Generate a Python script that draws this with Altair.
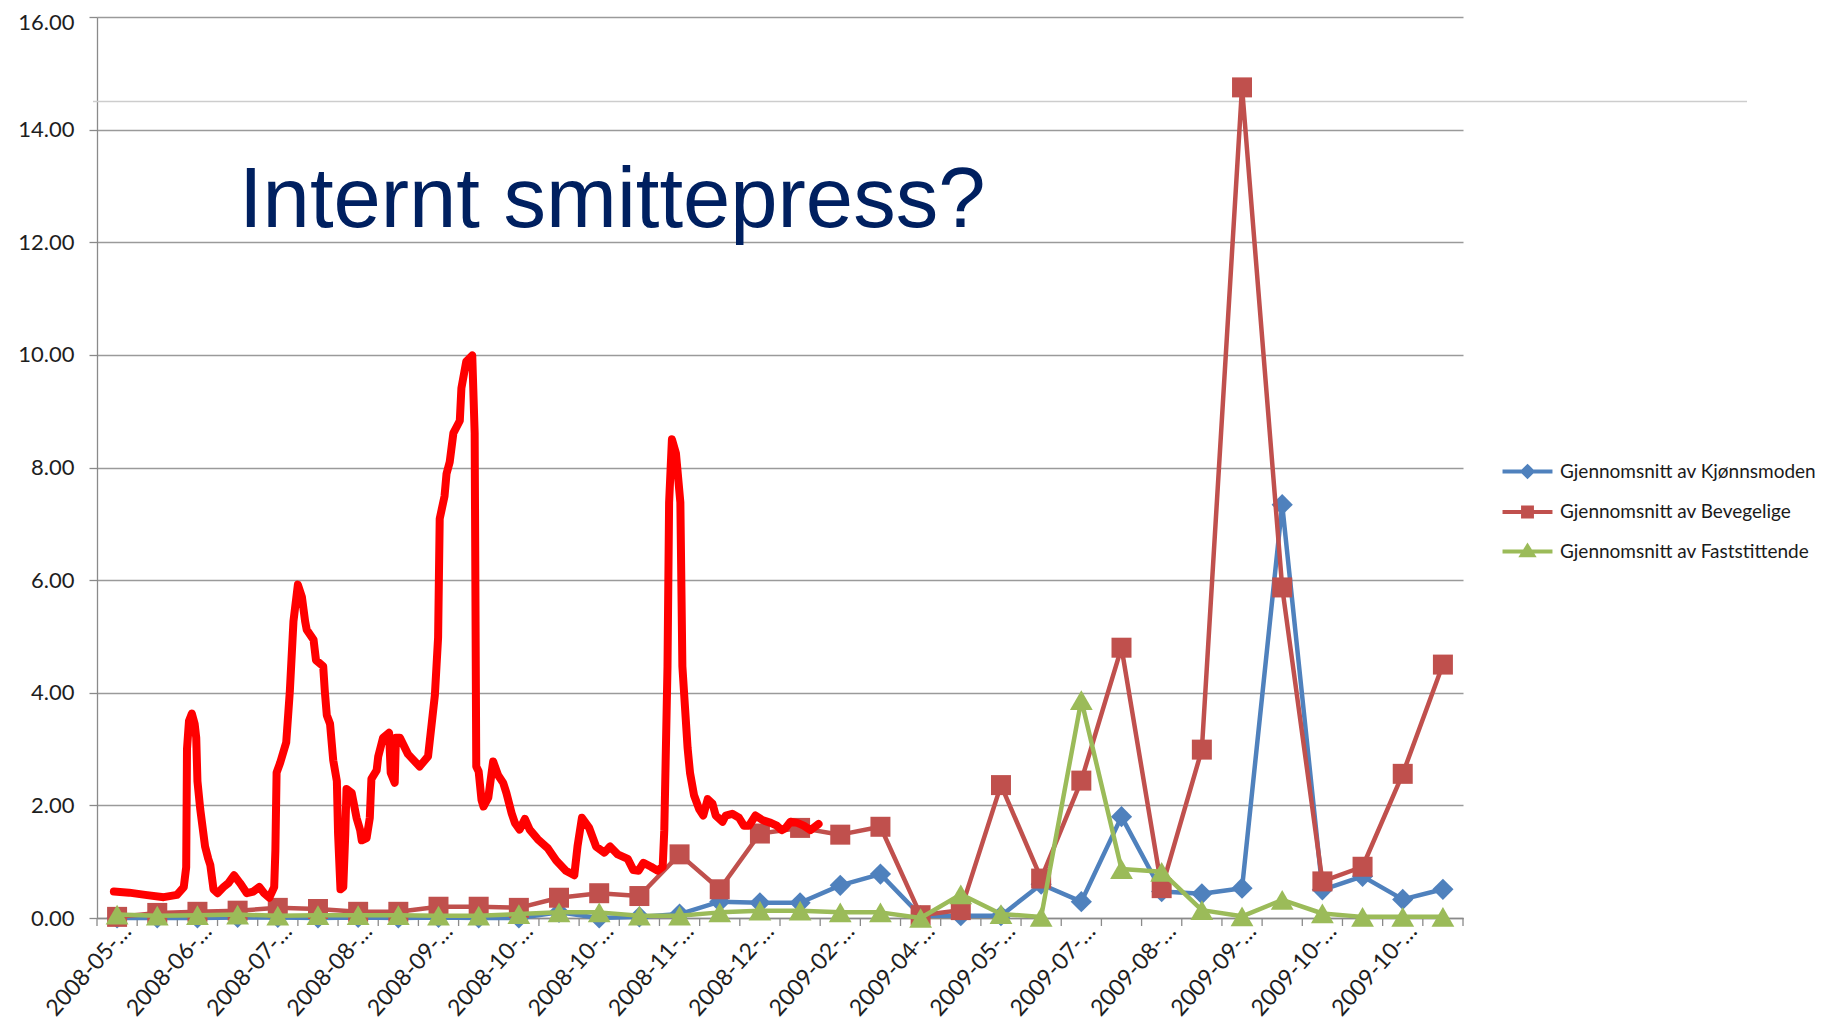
import altair as alt
import pandas as pd

# ---------------- data ----------------
x_labels = ["2008-05-…", "2008-06-…", "2008-07-…", "2008-08-…", "2008-09-…",
            "2008-10-…", "2008-10-…", "2008-11-…", "2008-12-…", "2009-02-…",
            "2009-04-…", "2009-05-…", "2009-07-…", "2009-08-…", "2009-09-…",
            "2009-10-…", "2009-10-…"]
n_categories = 34

series_names = ["Gjennomsnitt av Kjønnsmoden",
                "Gjennomsnitt av Bevegelige",
                "Gjennomsnitt av Faststittende"]

kjonnsmoden = [0.0, 0.0, 0.0, 0.01, 0.01, 0.0, 0.01, 0.0, 0.01, 0.0,
               0.0, 0.10, 0.0, 0.02, 0.07, 0.29, 0.27, 0.27, 0.58, 0.78,
               0.04, 0.04, 0.04, 0.60, 0.29, 1.80, 0.47, 0.43, 0.53, 7.34,
               0.50, 0.74, 0.33, 0.51]
bevegelige = [0.02, 0.09, 0.11, 0.13, 0.18, 0.16, 0.11, 0.11, 0.20, 0.20,
              0.18, 0.36, 0.44, 0.39, 1.13, 0.51, 1.50, 1.60, 1.48, 1.62,
              0.05, 0.14, 2.36, 0.70, 2.44, 4.80, 0.53, 2.99, 14.75, 5.87,
              0.65, 0.91, 2.56, 4.50]
faststittende = [0.06, 0.04, 0.05, 0.06, 0.04, 0.05, 0.05, 0.05, 0.04, 0.04,
                 0.07, 0.10, 0.10, 0.04, 0.04, 0.10, 0.13, 0.13, 0.10, 0.10,
                 0.0, 0.42, 0.07, 0.02, 3.87, 0.87, 0.82, 0.14, 0.03, 0.32,
                 0.08, 0.02, 0.02, 0.02]

# hand-drawn red annotation line (category position, value)
freehand_x = [-0.08, 0.3, 0.7, 1.16, 1.49, 1.66, 1.72, 1.74, 1.79, 1.86, 1.93, 1.97,
              2.0, 2.07, 2.19, 2.27, 2.32, 2.40, 2.5, 2.65, 2.77, 2.91, 3.06, 3.23,
              3.39, 3.54, 3.66, 3.79, 3.91, 3.94, 3.97, 4.06, 4.21, 4.30, 4.39, 4.50,
              4.60, 4.68, 4.72, 4.89, 4.95, 5.13, 5.17, 5.22, 5.30, 5.38, 5.47, 5.50,
              5.56, 5.63, 5.68, 5.71, 5.84, 5.96, 6.05, 6.09, 6.21, 6.29, 6.33, 6.46,
              6.50, 6.62, 6.77, 6.81, 6.91, 6.94, 7.04, 7.24, 7.53, 7.74, 7.91, 7.99,
              8.03, 8.15, 8.20, 8.28, 8.37, 8.53, 8.57, 8.69, 8.84, 8.90, 8.94, 9.0,
              9.07, 9.12, 9.24, 9.36, 9.48, 9.61, 9.69, 9.82, 9.90, 10.02, 10.15, 10.27,
              10.47, 10.72, 10.93, 11.17, 11.38, 11.46, 11.57, 11.75, 11.92, 12.13, 12.27, 12.46,
              12.71, 12.85, 12.98, 13.10, 13.29, 13.45, 13.58, 13.62, 13.70, 13.74, 13.81, 13.91,
              14.02, 14.07, 14.20, 14.26, 14.36, 14.49, 14.59, 14.70, 14.82, 14.90, 15.07, 15.15,
              15.31, 15.48, 15.60, 15.73, 15.89, 16.06, 16.27, 16.42, 16.54, 16.64, 16.76, 16.93,
              17.09, 17.26, 17.46]
freehand_y = [0.47, 0.45, 0.41, 0.37, 0.41, 0.55, 0.9, 3.0, 3.5, 3.63, 3.45, 3.2,
              2.43, 1.93, 1.27, 1.05, 0.94, 0.51, 0.44, 0.55, 0.62, 0.76, 0.62, 0.44,
              0.47, 0.55, 0.44, 0.36, 0.55, 1.2, 2.58, 2.76, 3.12, 4.03, 5.27, 5.92,
              5.70, 5.27, 5.12, 4.94, 4.58, 4.47, 4.03, 3.60, 3.45, 2.80, 2.43, 1.5,
              0.51, 0.55, 1.5, 2.29, 2.22, 1.78, 1.56, 1.38, 1.42, 1.78, 2.47, 2.62,
              2.87, 3.20, 3.29, 2.58, 2.40, 3.20, 3.20, 2.91, 2.69, 2.87, 3.96, 4.98,
              7.09, 7.49, 7.89, 8.10, 8.61, 8.83, 9.41, 9.88, 9.99, 8.61, 2.69, 2.6,
              2.1, 1.98, 2.14, 2.78, 2.54, 2.40, 2.22, 1.86, 1.69, 1.57, 1.76, 1.57,
              1.40, 1.24, 1.02, 0.84, 0.76, 1.27, 1.78, 1.60, 1.27, 1.16, 1.27, 1.13,
              1.05, 0.85, 0.84, 0.98, 0.91, 0.84, 0.91, 1.56, 4.47, 7.38, 8.50, 8.25,
              7.38, 4.47, 3.02, 2.58, 2.18, 1.93, 1.82, 2.11, 2.03, 1.82, 1.71, 1.82,
              1.85, 1.78, 1.64, 1.64, 1.82, 1.74, 1.69, 1.64, 1.56, 1.60, 1.71, 1.69,
              1.64, 1.56, 1.67]

title_text = "Internt smittepress?"
stray_line_value = 14.5

# ---------------- styling ----------------
colors = ["#4f81bd", "#c0504d", "#9bbb59"]
shapes = ["diamond", "square", "triangle-up"]
sizes = [450, 400, 520]
legend_paths = [
    "M-1.35,0L1.35,0M0,-0.27L0.27,0L0,0.27L-0.27,0Z",
    "M-1.35,0L1.35,0M-0.24,-0.24L0.24,-0.24L0.24,0.24L-0.24,0.24Z",
    "M-1.35,0L1.35,0M0,-0.28L0.3,0.2L-0.3,0.2Z",
]

W, H = 1366, 901
FONT = "Lato"

label_array = "[" + ",".join("'" + s + "'" for s in x_labels) + "]"

x_axis = alt.Axis(values=list(range(0, n_categories, 2)),
                  labelExpr=label_array + "[round(datum.value / 2)]",
                  labelAngle=-48, labelAlign="right", labelBaseline="alphabetic",
                  labelFont=FONT, labelFontSize=23, labelColor="#1e1e1e",
                  labelPadding=14, labelOffset=15, labelFlush=False,
                  labelOverlap=False, labelBound=False,
                  ticks=False, grid=False, domainColor="#8a8a8a", domainWidth=1.3,
                  title=None)
y_axis = alt.Axis(values=list(range(0, 17, 2)), format=".2f",
                  labelFont=FONT, labelFontSize=22, labelColor="#1e1e1e",
                  labelPadding=15, tickSize=8, tickColor="#8a8a8a", tickWidth=1.3,
                  labelOffset={"condition": {"test": "datum.value >= 16", "value": 5}, "value": 0},
                  domainColor="#8a8a8a", domainWidth=1.3,
                  grid=True, gridColor="#9a9a9a", gridWidth=1.3,
                  labelFlush=False, labelOverlap=False, title=None)

X = alt.X("idx:Q", scale=alt.Scale(domain=[-0.5, n_categories - 0.5], nice=False, zero=False), axis=x_axis)
Y = alt.Y("value:Q", scale=alt.Scale(domain=[0, 16], nice=False), axis=y_axis)

layers = []

# stray light line across the slide
stray = alt.Chart(pd.DataFrame({"value": [stray_line_value]})).mark_rule(
    color="#cdcdcd", strokeWidth=1.5).encode(y=Y, x=alt.value(-4), x2=alt.value(1650))
layers.append(stray)

# category boundary ticks
ticks_df = pd.DataFrame({"idx": [i - 0.5 for i in range(n_categories + 1)]})
ticks = alt.Chart(ticks_df).mark_rule(color="#8a8a8a", strokeWidth=1.3).encode(
    x=X, y=alt.value(H), y2=alt.value(H + 8))
layers.append(ticks)

for name, vals, col, shp, sz in zip(series_names, [kjonnsmoden, bevegelige, faststittende],
                                    colors, shapes, sizes):
    df = pd.DataFrame({"idx": list(range(n_categories)), "value": vals})
    line = alt.Chart(df).mark_line(color=col, strokeWidth=4.5, strokeJoin="round",
                                   strokeCap="round").encode(x=X, y=Y)
    pts = alt.Chart(df).mark_point(filled=True, shape=shp, size=sz, color=col,
                                   opacity=1).encode(x=X, y=Y)
    layers += [line, pts]

fh_df = pd.DataFrame({"idx": freehand_x, "value": freehand_y, "ord": list(range(len(freehand_x)))})
freehand = alt.Chart(fh_df).mark_line(color="#ff0000", strokeWidth=8, strokeJoin="round",
                                      strokeCap="round").encode(x=X, y=Y, order="ord:Q")
layers.append(freehand)

title = alt.Chart(pd.DataFrame({"t": [title_text]})).mark_text(
    font="Liberation Sans", fontSize=85, color="#002060", align="left",
    baseline="alphabetic").encode(text="t:N", x=alt.value(142), y=alt.value(210))
layers.append(title)

legend = alt.Legend(title=None, orient="none", legendX=1410, legendY=434,
                    labelFont=FONT, labelFontSize=19, labelColor="#1a1a1a",
                    labelLimit=0, symbolStrokeWidth=4, labelOffset=12,
                    rowPadding=6.5, padding=0, symbolSize=1369, symbolOpacity=1)
leg_df = pd.DataFrame({"series": series_names})
leg = alt.Chart(leg_df).transform_filter("false").mark_point(
    filled=True, size=1369, strokeWidth=4, opacity=1).encode(
    fill=alt.Fill("series:N", scale=alt.Scale(domain=series_names, range=colors), legend=legend),
    stroke=alt.Stroke("series:N", scale=alt.Scale(domain=series_names, range=colors), legend=legend),
    shape=alt.Shape("series:N", scale=alt.Scale(domain=series_names, range=legend_paths), legend=legend),
)
layers.append(leg)

chart = alt.layer(*layers).properties(
    width=W, height=H,
    padding={"left": 89, "top": 9, "right": 355, "bottom": 105},
    autosize=alt.AutoSizeParams(type="none"),
    background="white",
).configure_view(stroke=None)

chart.save("out.html", embed_options={"renderer": "svg", "actions": False})
